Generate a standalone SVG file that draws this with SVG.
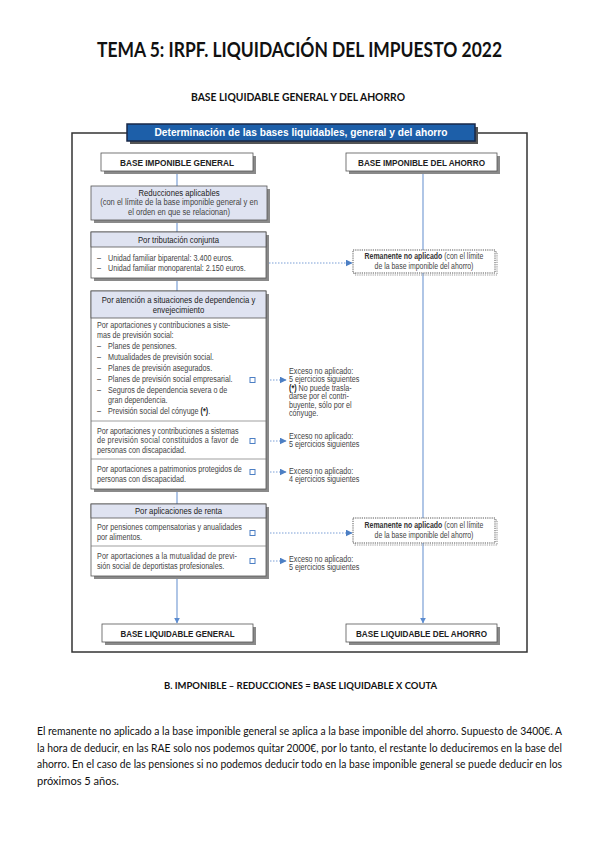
<svg xmlns="http://www.w3.org/2000/svg" width="599" height="848" viewBox="0 0 599 848">
<style>
.doc{font-family:Lato,"Open Sans","Liberation Sans",sans-serif;fill:#111}
.d{font-family:"Liberation Sans",Arial,sans-serif;font-size:9px;fill:#444}
.dh{font-family:"Liberation Sans",Arial,sans-serif;font-size:9.2px;fill:#222}
.bh{font-family:"Liberation Sans",Arial,sans-serif;font-size:9.6px;font-weight:bold;fill:#222}
.c{text-anchor:middle}
.box{fill:#fff;stroke:#555;stroke-width:0.8}
.hd{fill:#dfe3f1;stroke:#555;stroke-width:0.8}
.sh{fill:#8a8a8a}
.div{stroke:#777;stroke-width:0.7}
.ln{stroke:#7b9fd6;stroke-width:1.2;fill:none}
.dot{stroke:#7b9fd6;stroke-width:1;stroke-dasharray:1.5 1.5;fill:none}
.sq{fill:#fff;stroke:#4c7fc4;stroke-width:1}
.rem{fill:#fff;stroke:#444;stroke-width:0.9;stroke-dasharray:1.2 1}
</style>
<defs>
<marker id="ah" viewBox="0 0 10 10" refX="9" refY="5" markerWidth="6" markerHeight="6" markerUnits="userSpaceOnUse" orient="auto"><path d="M0,0 L10,5 L0,10 z" fill="#5b8bd0"/></marker>
<marker id="ahd" viewBox="0 0 10 10" refX="9" refY="5" markerWidth="7" markerHeight="7" markerUnits="userSpaceOnUse" orient="auto"><path d="M0,0 L10,5 L0,10 z" fill="#4c7fc4"/></marker>
</defs>
<rect width="599" height="848" fill="#fff"/>

<g id="page-text" class="doc">
<text x="97" y="57" font-size="20" font-weight="bold" textLength="405" lengthAdjust="spacingAndGlyphs">TEMA 5: IRPF. LIQUIDACIÓN DEL IMPUESTO 2022</text>
<text x="191" y="101" font-size="10.5" font-weight="bold" textLength="214" lengthAdjust="spacingAndGlyphs">BASE LIQUIDABLE GENERAL Y DEL AHORRO</text>
<text x="164" y="689" font-size="10" font-weight="bold" textLength="273" lengthAdjust="spacingAndGlyphs">B. IMPONIBLE – REDUCCIONES = BASE LIQUIDABLE X COUTA</text>
<text x="37" y="735" font-size="10.5" textLength="525" lengthAdjust="spacingAndGlyphs">El remanente no aplicado a la base imponible general se aplica a la base imponible del ahorro. Supuesto de 3400€. A</text>
<text x="37" y="752" font-size="10.5" textLength="525" lengthAdjust="spacingAndGlyphs">la hora de deducir, en las RAE solo nos podemos quitar 2000€, por lo tanto, el restante lo deduciremos en la base del</text>
<text x="37" y="768" font-size="10.5" textLength="525" lengthAdjust="spacingAndGlyphs">ahorro. En el caso de las pensiones si no podemos deducir todo en la base imponible general se puede deducir en los</text>
<text x="37" y="785" font-size="10.5" textLength="82" lengthAdjust="spacingAndGlyphs">próximos 5 años.</text>
</g>

<g id="frame">
<rect x="72" y="133" width="455" height="519" fill="none" stroke="#333" stroke-width="1.5"/>
</g>

<g id="connectors">
<line class="ln" x1="177" y1="171" x2="177" y2="186"/>
<line class="ln" x1="177" y1="220" x2="177" y2="232"/>
<line class="ln" x1="177" y1="278" x2="177" y2="291"/>
<line class="ln" x1="177" y1="489" x2="177" y2="504"/>
<line class="ln" x1="177" y1="576" x2="177" y2="623" marker-end="url(#ah)"/>
<line class="ln" x1="423" y1="171" x2="423" y2="623" marker-end="url(#ah)"/>
<line class="dot" x1="266" y1="263" x2="352" y2="263" marker-end="url(#ahd)"/>
<line class="dot" x1="255" y1="380" x2="286" y2="380" marker-end="url(#ahd)"/>
<line class="dot" x1="255" y1="441" x2="286" y2="441" marker-end="url(#ahd)"/>
<line class="dot" x1="255" y1="472" x2="286" y2="472" marker-end="url(#ahd)"/>
<line class="dot" x1="255" y1="533" x2="352" y2="533" marker-end="url(#ahd)"/>
<line class="dot" x1="255" y1="561" x2="286" y2="561" marker-end="url(#ahd)"/>
</g>

<g id="banner">
<rect x="130" y="127" width="348" height="17" fill="#555"/>
<rect x="127" y="124" width="348" height="17" fill="#1d5fa9" stroke="#182848" stroke-width="1.5"/>
<text class="bh c" x="301" y="136" style="fill:#fff;font-size:10.8px" textLength="293" lengthAdjust="spacingAndGlyphs">Determinación de las bases liquidables, general y del ahorro</text>
</g>

<g id="base-imponible-general">
<rect class="sh" x="104" y="156" width="152" height="18"/>
<rect class="box" x="101" y="153" width="152" height="18"/>
<text class="bh c" x="177" y="165.5" textLength="114" lengthAdjust="spacingAndGlyphs">BASE IMPONIBLE GENERAL</text>
</g>

<g id="base-imponible-ahorro">
<rect class="sh" x="349" y="156" width="151" height="18"/>
<rect class="box" x="346" y="153" width="151" height="18"/>
<text class="bh c" x="421.5" y="165.5" textLength="127" lengthAdjust="spacingAndGlyphs">BASE IMPONIBLE DEL AHORRO</text>
</g>

<g id="reducciones">
<rect class="sh" x="94" y="189" width="176" height="34"/>
<rect class="hd" x="91" y="186" width="176" height="34"/>
<g transform="translate(179,0) scale(0.84,1)">
<text class="dh c" x="0" y="196">Reducciones aplicables</text>
</g>
<g transform="translate(179,0) scale(0.84,1)">
<text class="d c" x="0" y="205.5">(con el límite de la base imponible general y en</text>
<text class="d c" x="0" y="215">el orden en que se relacionan)</text>
</g>
</g>

<g id="tributacion-conjunta">
<rect class="sh" x="94" y="235" width="175" height="46"/>
<rect class="box" x="91" y="232" width="175" height="46"/>
<rect class="hd" x="91" y="232" width="175" height="15"/>
<g transform="translate(178.5,0) scale(0.84,1)">
<text class="dh c" x="0" y="243">Por tributación conjunta</text>
</g>
<g transform="translate(97,0) scale(0.8,1)">
<text class="d" x="0" y="261">–</text><text class="d" x="13.8" y="261">Unidad familiar biparental: 3.400 euros.</text>
<text class="d" x="0" y="271">–</text><text class="d" x="13.8" y="271">Unidad familiar monoparental: 2.150 euros.</text>
</g>
</g>

<g id="remanente-1">
<rect x="355" y="252" width="142" height="23" fill="none" stroke="#999" stroke-width="1.2" stroke-dasharray="1.2 1"/>
<rect class="rem" x="353" y="250" width="142" height="23"/>
<g transform="translate(424,0) scale(0.77,1)">
<text class="d c" x="0" y="259.5"><tspan font-weight="bold" fill="#333">Remanente no aplicado</tspan> (con el límite</text>
<text class="d c" x="0" y="269">de la base imponible del ahorro)</text>
</g>
</g>

<g id="dependencia">
<rect class="sh" x="94" y="294" width="175" height="198"/>
<rect class="box" x="91" y="291" width="175" height="198"/>
<rect class="hd" x="91" y="291" width="175" height="27"/>
<g transform="translate(178.5,0) scale(0.84,1)">
<text class="dh c" x="0" y="303.5">Por atención a situaciones de dependencia y</text>
<text class="dh c" x="0" y="313">envejecimiento</text>
</g>
<g transform="translate(97,0) scale(0.8,1)">
<text class="d" x="0" y="328">Por aportaciones y contribuciones a siste-</text>
<text class="d" x="0" y="338">mas de previsión social:</text>
<text class="d" x="0" y="349">–</text><text class="d" x="13.8" y="349">Planes de pensiones.</text>
<text class="d" x="0" y="360">–</text><text class="d" x="13.8" y="360">Mutualidades de previsión social.</text>
<text class="d" x="0" y="371">–</text><text class="d" x="13.8" y="371">Planes de previsión asegurados.</text>
<text class="d" x="0" y="382">–</text><text class="d" x="13.8" y="382">Planes de previsión social empresarial.</text>
<text class="d" x="0" y="393">–</text><text class="d" x="13.8" y="393">Seguros de dependencia severa o de</text>
<text class="d" x="13.8" y="403">gran dependencia.</text>
<text class="d" x="0" y="414">–</text><text class="d" x="13.8" y="414">Previsión social del cónyuge <tspan font-weight="bold" fill="#222">(*)</tspan>.</text>
<text class="d" x="0" y="434" textLength="177" lengthAdjust="spacing">Por aportaciones y contribuciones a sistemas</text>
<text class="d" x="0" y="443.5" textLength="177" lengthAdjust="spacing">de previsión social constituidos a favor de</text>
<text class="d" x="0" y="453">personas con discapacidad.</text>
<text class="d" x="0" y="472">Por aportaciones a patrimonios protegidos de</text>
<text class="d" x="0" y="482">personas con discapacidad.</text>
</g>
<line class="div" x1="91" y1="421" x2="266" y2="421"/>
<line class="div" x1="91" y1="459" x2="266" y2="459"/>
<rect class="sq" x="250" y="377.5" width="5" height="5"/>
<rect class="sq" x="250" y="438.5" width="5" height="5"/>
<rect class="sq" x="250" y="469.5" width="5" height="5"/>
</g>

<g id="exceso-1">
<g transform="translate(289,0) scale(0.8,1)">
<text class="d" x="0" y="374">Exceso no aplicado:</text>
<text class="d" x="0" y="382.5">5 ejercicios siguientes</text>
<text class="d" x="0" y="391"><tspan font-weight="bold" fill="#222">(*)</tspan> No puede trasla-</text>
<text class="d" x="0" y="399.5">darse por el contri-</text>
<text class="d" x="0" y="408">buyente, sólo por el</text>
<text class="d" x="0" y="416.5">cónyuge.</text>
</g>
</g>

<g id="exceso-2">
<g transform="translate(289,0) scale(0.8,1)">
<text class="d" x="0" y="439">Exceso no aplicado:</text>
<text class="d" x="0" y="447.5">5 ejercicios siguientes</text>
</g>
</g>

<g id="exceso-3">
<g transform="translate(289,0) scale(0.8,1)">
<text class="d" x="0" y="474">Exceso no aplicado:</text>
<text class="d" x="0" y="482.5">4 ejercicios siguientes</text>
</g>
</g>

<g id="renta">
<rect class="sh" x="94" y="507" width="175" height="72"/>
<rect class="box" x="91" y="504" width="175" height="72"/>
<rect class="hd" x="91" y="504" width="175" height="14"/>
<g transform="translate(178.5,0) scale(0.84,1)">
<text class="dh c" x="0" y="514.5">Por aplicaciones de renta</text>
</g>
<g transform="translate(97,0) scale(0.8,1)">
<text class="d" x="0" y="530">Por pensiones compensatorias y anualidades</text>
<text class="d" x="0" y="540">por alimentos.</text>
<text class="d" x="0" y="559" textLength="175" lengthAdjust="spacing">Por aportaciones a la mutualidad de previ-</text>
<text class="d" x="0" y="569">sión social de deportistas profesionales.</text>
</g>
<line class="div" x1="91" y1="546" x2="266" y2="546"/>
<rect class="sq" x="250" y="530.5" width="5" height="5"/>
<rect class="sq" x="250" y="558.5" width="5" height="5"/>
</g>

<g id="remanente-2">
<rect x="355" y="520" width="142" height="25" fill="none" stroke="#999" stroke-width="1.2" stroke-dasharray="1.2 1"/>
<rect class="rem" x="353" y="518" width="142" height="25"/>
<g transform="translate(424,0) scale(0.77,1)">
<text class="d c" x="0" y="528.5"><tspan font-weight="bold" fill="#333">Remanente no aplicado</tspan> (con el límite</text>
<text class="d c" x="0" y="538">de la base imponible del ahorro)</text>
</g>
</g>

<g id="exceso-4">
<g transform="translate(289,0) scale(0.8,1)">
<text class="d" x="0" y="562">Exceso no aplicado:</text>
<text class="d" x="0" y="570.5">5 ejercicios siguientes</text>
</g>
</g>

<g id="base-liquidable-general">
<rect class="sh" x="105" y="627" width="151" height="18"/>
<rect class="box" x="102" y="624" width="151" height="18"/>
<text class="bh c" x="177.5" y="636.5" textLength="114" lengthAdjust="spacingAndGlyphs">BASE LIQUIDABLE GENERAL</text>
</g>

<g id="base-liquidable-ahorro">
<rect class="sh" x="349" y="627" width="151" height="18"/>
<rect class="box" x="346" y="624" width="151" height="18"/>
<text class="bh c" x="421.5" y="636.5" textLength="131" lengthAdjust="spacingAndGlyphs">BASE LIQUIDABLE DEL AHORRO</text>
</g>
</svg>
